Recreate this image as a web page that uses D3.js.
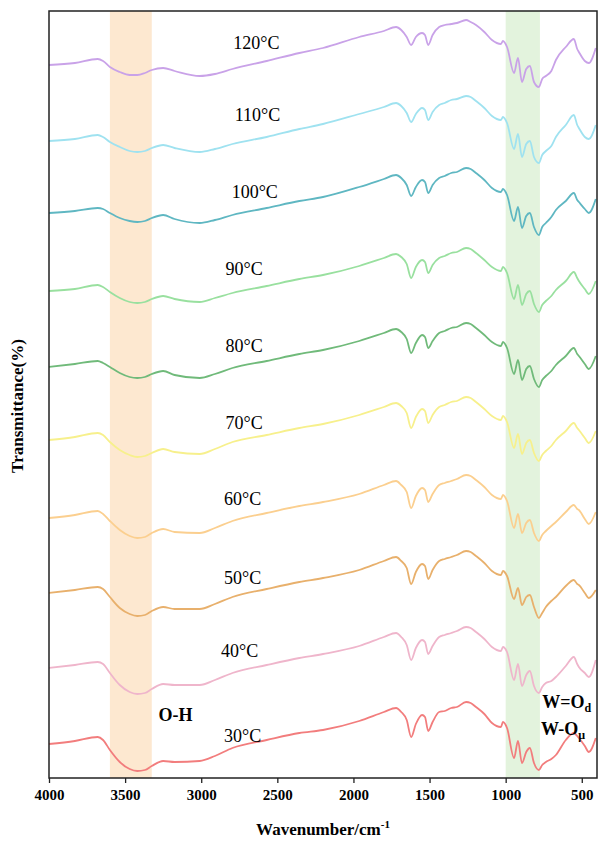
<!DOCTYPE html>
<html lang="en">
<head>
    <meta charset="UTF-8">
    <title>FTIR spectra at different temperatures</title>
    <script src="https://d3js.org/d3.v7.min.js"></script>
    <style>
        body { margin: 0; background: #fff; }
        .tick text { font: bold 15px "Liberation Serif", "Times New Roman", serif; }
        .temp { font: 18px "Liberation Serif", "Times New Roman", serif; }
        .band-label { font: bold 18px "Liberation Serif", "Times New Roman", serif; }
        .title { font: bold 17px "Liberation Serif", "Times New Roman", serif; }
    </style>
</head>
<body>
    <script>
        // wavenumbers (cm-1) shared by every spectrum
        var wavenumbers = [4000, 3830, 3680, 3645, 3600, 3535, 3470, 3420, 3370, 3325, 3250, 3175, 3010, 2910, 2795, 2570, 2355, 2200,
            1962, 1800, 1720, 1686, 1650, 1621, 1590, 1549, 1530, 1509, 1480, 1437, 1400, 1358, 1320, 1260, 1230, 1195, 1140, 1090,
            1031, 1018, 991, 945, 919, 893, 865, 841, 814, 782, 760, 736, 700, 670, 605, 552, 530, 519, 480, 454, 408];

        // relative transmittance of each spectrum (a.u.)
        var t30  = [0,3,7,4,-6,-18,-25,-27,-26,-22,-17,-18,-17,-12,-4,4,11,14,23,32,36,32,24,7,20,29,27,13,22,32,33,36,37,42,41,37,30,21,17,22,16,-14,3,-19,-8,-4,-19,-26,-21,-18,-15,-11,4,11,8,6,-2,-8,6];
        var t40  = [0,3,6,4,-5,-17,-24,-26,-25,-21,-16,-17,-17,-12,-5,3,10,14,22,31,35,31,23,8,20,28,26,14,22,31,33,35,37,41,40,36,29,21,17,21,16,-12,4,-18,-7,-3,-18,-25,-19,-15,-13,-9,2,11,4,1,-5,-9,8];
        var t50  = [0,3,6,4,-4,-15,-21,-23,-22,-18,-14,-16,-16,-11,-4,4,11,15,23,32,36,32,25,9,21,29,27,14,23,32,34,36,38,42,41,37,30,22,18,22,17,-6,5,-12,-4,-2,-14,-25,-20,-14,-8,-4,7,13,9,8,0,-5,3];
        var t60  = [0,3,7,4,-3,-12,-18,-20,-19,-15,-11,-14,-15,-10,-3,5,12,16,24,33,37,33,26,10,22,30,28,16,24,33,35,37,39,43,42,38,31,23,19,23,17,-10,4,-15,-5,-2,-15,-23,-17,-13,-8,-4,6,13,9,8,-1,-6,6];
        var t70  = [0,3,7,5,-2,-10,-15,-17,-16,-13,-9,-12,-14,-9,-2,5,12,16,25,33,37,34,27,12,23,31,29,17,25,33,35,38,39,43,42,38,31,24,20,24,18,-8,6,-14,-3,0,-13,-21,-15,-11,-6,0,9,17,12,10,2,-3,9];
        var t80  = [0,3,6,4,0,-6,-10,-11,-10,-7,-4,-8,-11,-7,-1,6,13,17,26,34,38,35,28,14,24,32,30,19,26,34,36,39,40,44,43,39,32,25,21,25,19,-7,7,-13,-2,1,-12,-20,-13,-9,-4,2,11,19,13,11,3,-2,11];
        var t90  = [0,2,6,4,-1,-7,-11,-12,-11,-8,-5,-8,-11,-7,-2,5,12,16,25,33,37,34,27,13,24,31,29,18,26,33,35,38,39,43,42,38,31,24,20,24,18,-8,6,-14,-3,0,-13,-21,-14,-10,-5,1,10,19,13,10,2,-3,10];
        var t100 = [0,2,5,4,0,-5,-8,-9,-8,-5,-2,-6,-10,-7,-2,5,12,16,26,34,38,35,28,17,26,33,31,20,28,35,37,40,41,45,44,40,33,25,21,24,18,-8,6,-15,-3,0,-14,-22,-14,-10,-4,3,12,20,13,11,4,0,14];
        var t110 = [0,2,6,4,-1,-6,-10,-11,-10,-7,-4,-7,-11,-8,-3,4,12,17,27,34,38,35,28,19,27,33,31,21,29,36,38,41,42,45,44,40,33,25,21,24,18,-8,7,-16,-3,0,-16,-22,-14,-10,-5,4,16,26,16,13,4,2,16];
        var t120 = [0,2,6,4,-2,-7,-10,-10,-8,-5,-3,-6,-11,-9,-4,4,12,17,28,34,38,35,28,20,28,32,30,20,30,38,40,41,42,45,43,40,33,25,21,24,18,-8,7,-17,-4,-1,-17,-22,-14,-11,-6,5,18,26,16,13,4,2,17];

        var temps   = ["30°C", "40°C", "50°C", "60°C", "70°C", "80°C", "90°C", "100°C", "110°C", "120°C"];
        var spectra = [t30, t40, t50, t60, t70, t80, t90, t100, t110, t120];
        var offsets = [34, 110, 185, 260, 338, 411, 487, 565, 637, 713];   // vertical stacking
        var colors  = ["#f27d7d", "#efb5cb", "#e8b06c", "#fbcf8f", "#f7f08c", "#70ba7a", "#99e09f", "#5fb7c2", "#9fe2f0", "#c9a2e8"];

        var xTicks = [4000, 3500, 3000, 2500, 2000, 1500, 1000, 500];
        var bands  = [{from: 3600, to: 3325, color: "#fde8d0"}, {from: 1000, to: 775, color: "#e3f3dd"}];

        var W = 600, H = 841;
        var margin = {top: 11, right: 3, bottom: 63, left: 49};
        var width = W - margin.left - margin.right,
            height = H - margin.top - margin.bottom;

        var svg = d3.select("body").append("svg")
            .attr("width", W)
            .attr("height", H);

        var g = svg.append("g")
            .attr("transform", "translate(" + margin.left + "," + margin.top + ")");

        var x = d3.scaleLinear().domain([4000, 400]).range([0, width]);
        var y = d3.scaleLinear().domain([0, height]).range([height, 0]);

        // highlighted bands
        g.selectAll(".band")
            .data(bands)
            .enter().append("rect")
            .attr("class", "band")
            .attr("x", function(d) { return x(d.from); })
            .attr("width", function(d) { return x(d.to) - x(d.from); })
            .attr("y", 0)
            .attr("height", height)
            .attr("fill", function(d) { return d.color; });

        var line = d3.line()
            .x(function(d) { return x(d[0]); })
            .y(function(d) { return y(d[1]); })
            .curve(d3.curveMonotoneX);

        spectra.forEach(function(s, i) {
            var pts = wavenumbers.map(function(w, j) { return [w, offsets[i] + s[j]]; });
            g.append("path")
                .datum(pts)
                .attr("fill", "none")
                .attr("stroke", colors[i])
                .attr("stroke-width", 1.8)
                .attr("stroke-linejoin", "round")
                .attr("d", line);
        });

        // temperature labels, just above each curve
        var labelX = [2850, 2870, 2850, 2850, 2840, 2840, 2840, 2800, 2780, 2790];
        var labelDy = [2, 11, 9, 13, 11, 15, 16, 15, 20, 16];
        temps.forEach(function(t, i) {
            g.append("text")
                .attr("class", "temp")
                .attr("x", x(labelX[i]))
                .attr("y", y(offsets[i] + labelDy[i]))
                .text(t);
        });

        // band labels
        g.append("text")
            .attr("class", "band-label")
            .attr("x", x(3280))
            .attr("y", y(offsets[0] + 23))
            .text("O-H");

        var wd = g.append("text")
            .attr("class", "band-label")
            .attr("x", x(760))
            .attr("y", y(offsets[0] + 36));
        wd.append("tspan").text("W=O");
        wd.append("tspan").attr("font-size", 12).attr("dy", 4).text("d");

        var wm = g.append("text")
            .attr("class", "band-label")
            .attr("x", x(768))
            .attr("y", y(offsets[0] + 9));
        wm.append("tspan").text("W-O");
        wm.append("tspan").attr("font-size", 12).attr("dy", 4).text("μ");

        // axes and frame
        var xAxis = g.append("g")
            .attr("transform", "translate(0," + height + ")")
            .call(d3.axisBottom(x).tickValues(xTicks).tickSize(5).tickPadding(6).tickFormat(d3.format("d")));
        xAxis.select(".domain").remove();
        xAxis.selectAll(".tick line").attr("stroke", "#222").attr("stroke-width", 1.3);
        xAxis.selectAll(".tick text").attr("fill", "#000");

        g.append("rect")
            .attr("x", 0)
            .attr("y", 0)
            .attr("width", width)
            .attr("height", height)
            .attr("fill", "none")
            .attr("stroke", "#222")
            .attr("stroke-width", 1.5);

        // axis titles
        var xt = svg.append("text")
            .attr("class", "title")
            .attr("text-anchor", "middle")
            .attr("x", 323)
            .attr("y", 835);
        xt.append("tspan").text("Wavenumber/cm");
        xt.append("tspan").attr("font-size", 11).attr("dy", -7).text("-1");

        svg.append("text")
            .attr("class", "title")
            .attr("text-anchor", "middle")
            .attr("transform", "translate(23,406) rotate(-90)")
            .text("Transmittance(%)");
    </script>
</body>
</html>
